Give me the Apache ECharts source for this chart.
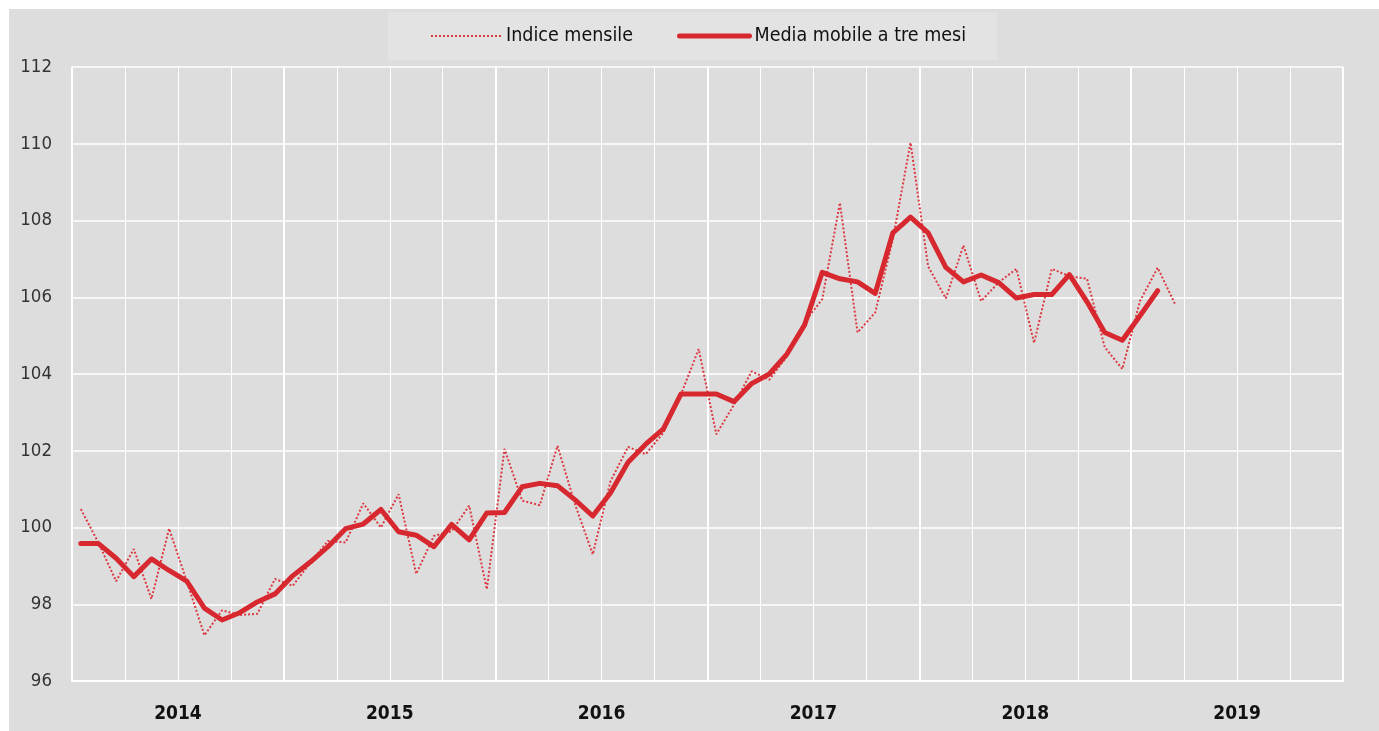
<!DOCTYPE html>
<html>
<head>
<meta charset="utf-8">
<script src="https://cdn.jsdelivr.net/npm/echarts@6/dist/echarts.min.js"></script>
<style>
  html, body { margin: 0; padding: 0; background: #ffffff; }
  #chart { position: absolute; left: 9px; top: 9px; width: 1370px; height: 722px; background: #dddddd; }
</style>
</head>
<body>
<div id="chart"></div>
<script>
// ---- data ----
const years = ['2014', '2015', '2016', '2017', '2018', '2019'];
const monthNames = ['gen', 'feb', 'mar', 'apr', 'mag', 'giu', 'lug', 'ago', 'set', 'ott', 'nov', 'dic'];
const yTicks = { min: 96, max: 112, step: 2 };

// Indice mensile (Jan 2014 - Mar 2019)
const indiceMensile = [
  100.48, 99.6, 98.6, 99.44, 98.14, 99.97, 98.6, 97.19, 97.84, 97.72, 97.75, 98.66,
  98.48, 99.08, 99.65, 99.61, 100.63, 100.0, 100.87, 98.79, 99.78, 99.9, 100.57, 98.39,
  102.05, 100.7, 100.58, 102.13, 100.6, 99.3, 101.2, 102.1, 101.91, 102.47, 103.47, 104.65,
  102.43, 103.2, 104.07, 103.85, 104.46, 105.35, 105.95, 108.46, 105.08, 105.6, 107.51, 110.03,
  106.8, 105.97, 107.35, 105.9, 106.39, 106.74, 104.81, 106.74, 106.55, 106.48, 104.7, 104.13,
  105.9, 106.77, 105.81
];

// Media mobile a tre mesi (Jan 2014 - Feb 2019)
const mediaMobile = [
  99.58, 99.58, 99.2, 98.72, 99.18, 98.88, 98.6, 97.9, 97.59, 97.78, 98.06, 98.27,
  98.74, 99.1, 99.5, 99.97, 100.09, 100.47, 99.89, 99.8, 99.5, 100.08, 99.68, 100.38,
  100.39, 101.06, 101.15, 101.09, 100.72, 100.3, 100.9, 101.7, 102.17, 102.57, 103.48, 103.48,
  103.48, 103.28, 103.75, 104.0, 104.52, 105.28, 106.65, 106.48, 106.4, 106.1, 107.68, 108.09,
  107.68, 106.78, 106.4, 106.58, 106.38, 105.98, 106.07, 106.07, 106.59, 105.88, 105.08, 104.88,
  105.52, 106.17
];

// month categories built from years
const months = [];
years.forEach(y => monthNames.forEach(m => months.push(m + ' ' + y)));

const RED = '#d7282f';
const FONT = "'DejaVu Sans Condensed', 'Liberation Sans Narrow', 'Arial Narrow', sans-serif";

const chart = echarts.init(document.getElementById('chart'), null, { renderer: 'canvas' });
chart.setOption({
  backgroundColor: '#dddddd',
  animation: false,
  textStyle: { fontFamily: FONT },
  legend: {
    left: 379,
    top: 3,
    backgroundColor: '#e3e3e3',
    padding: [14, 31, 14, 42],
    itemWidth: 70,
    itemHeight: 14,
    itemGap: 44,
    itemStyle: { opacity: 0 },
    lineStyle: { width: 'inherit', type: 'inherit' },
    textStyle: { fontFamily: FONT, fontSize: 19.5, color: '#111111' },
    data: ['Indice mensile', 'Media mobile a tre mesi']
  },
  grid: { left: 63, right: 36, top: 58, bottom: 50, containLabel: false },
  xAxis: [
    {
      type: 'category',
      position: 'bottom',
      data: months,
      boundaryGap: true,
      axisLine: { show: true, lineStyle: { color: '#ffffff', width: 2 } },
      axisTick: { show: false },
      axisLabel: { show: false },
      splitLine: { show: true, interval: 2, lineStyle: { color: '#ffffff', width: 1 } }
    },
    {
      type: 'category',
      position: 'bottom',
      data: years,
      boundaryGap: true,
      axisLine: { show: false },
      axisTick: { show: false },
      axisLabel: { show: true, margin: 24, fontFamily: FONT, fontSize: 19, fontWeight: 'bold', color: '#111111' },
      splitLine: { show: true, interval: 0, lineStyle: { color: '#ffffff', width: 2 } }
    }
  ],
  yAxis: {
    type: 'value',
    min: yTicks.min,
    max: yTicks.max,
    interval: yTicks.step,
    axisLine: { show: false },
    axisTick: { show: false },
    axisLabel: { margin: 20, fontFamily: FONT, fontSize: 18.5, color: '#333333' },
    splitLine: { show: true, lineStyle: { color: '#ffffff', width: 1.5 } }
  },
  series: [
    {
      name: 'Indice mensile',
      type: 'line',
      xAxisIndex: 0,
      data: indiceMensile,
      symbol: 'none',
      lineStyle: { color: '#dc3a42', width: 2, type: [2, 2] },
      itemStyle: { color: '#dc3a42' },
      z: 3
    },
    {
      name: 'Media mobile a tre mesi',
      type: 'line',
      xAxisIndex: 0,
      data: mediaMobile,
      symbol: 'none',
      lineStyle: { color: RED, width: 5, cap: 'round', join: 'round' },
      itemStyle: { color: RED },
      z: 4
    }
  ]
});
</script>
</body>
</html>
